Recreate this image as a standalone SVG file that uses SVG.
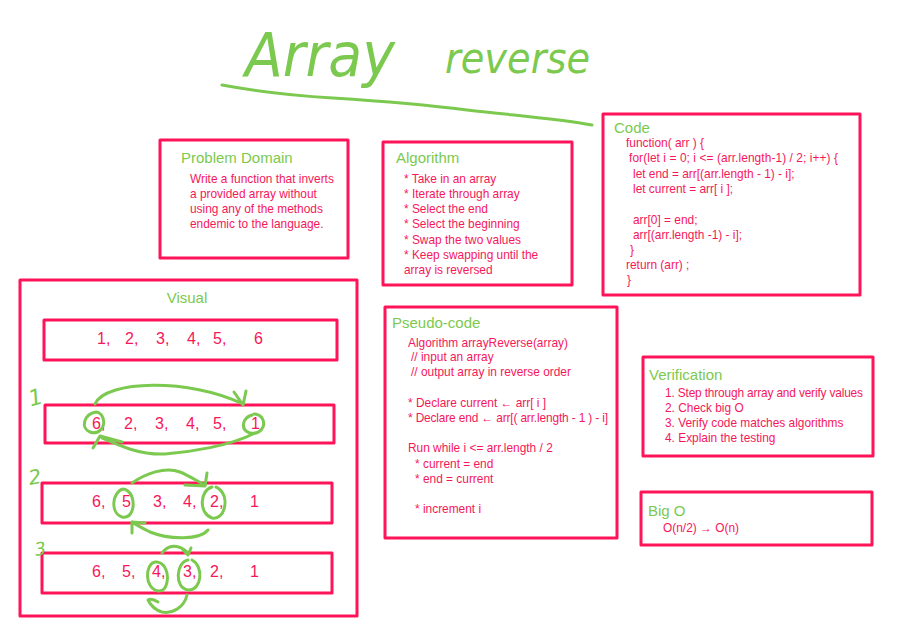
<svg xmlns="http://www.w3.org/2000/svg" width="902" height="634" viewBox="0 0 902 634">
<style>
.box{fill:none;stroke:#ff1459;stroke-width:3;stroke-linejoin:round}
.ttl{font-family:"Liberation Sans",Arial,sans-serif;font-size:15px;fill:#7cc94f}
.txt{font-family:"Liberation Sans",Arial,sans-serif;font-size:11.9px;fill:#f5175a}
.num{font-family:"Liberation Sans",Arial,sans-serif;font-size:16px;fill:#f5175a}
.g{fill:none;stroke:#7cc94f;stroke-width:3;stroke-linecap:round;stroke-linejoin:round}
.hand{font-family:"DejaVu Sans",sans-serif;fill:#7cc94f;font-style:italic}
</style>
<rect width="902" height="634" fill="#ffffff"/>
<g id="title">
<text class="hand" x="245" y="76" font-size="60" textLength="150" lengthAdjust="spacingAndGlyphs">Array</text>
<text class="hand" x="445" y="73" font-size="42" textLength="145" lengthAdjust="spacingAndGlyphs">reverse</text>
<path class="g" d="M222,85 C260,92 300,96 333,98 C380,101 420,104 467,110 C520,116 560,119 592,125"/>
</g>
<g id="problem-domain">
<rect class="box" x="160" y="140" width="188" height="118"/>
<text class="ttl" x="181" y="163">Problem Domain</text>
<text class="txt" x="190" y="183">Write a function that inverts</text>
<text class="txt" x="190" y="198">a provided array without</text>
<text class="txt" x="190" y="213">using any of the methods</text>
<text class="txt" x="190" y="228">endemic to the language.</text>
</g>
<g id="algorithm">
<rect class="box" x="383" y="142" width="189" height="143"/>
<text class="ttl" x="396" y="163">Algorithm</text>
<text class="txt" x="404" y="183">* Take in an array</text>
<text class="txt" x="404" y="198">* Iterate through array</text>
<text class="txt" x="404" y="213">* Select the end</text>
<text class="txt" x="404" y="228">* Select the beginning</text>
<text class="txt" x="404" y="244">* Swap the two values</text>
<text class="txt" x="404" y="259">* Keep swapping until the</text>
<text class="txt" x="404" y="274">array is reversed</text>
</g>
<g id="code">
<rect class="box" x="603" y="114" width="257" height="181"/>
<text class="ttl" x="614" y="133">Code</text>
<text class="txt" x="626" y="147">function( arr ) {</text>
<text class="txt" x="629" y="162" textLength="209">for(let i = 0; i &lt;= (arr.length-1) / 2; i++) {</text>
<text class="txt" x="633" y="178">let end = arr[(arr.length - 1) - i];</text>
<text class="txt" x="633" y="193">let current = arr[ i ];</text>
<text class="txt" x="633" y="224">arr[0] = end;</text>
<text class="txt" x="633" y="239">arr[(arr.length -1) - i];</text>
<text class="txt" x="630" y="254">}</text>
<text class="txt" x="626" y="269">return (arr) ;</text>
<text class="txt" x="627" y="284">}</text>
</g>
<g id="pseudo-code">
<rect class="box" x="385" y="307" width="232" height="231"/>
<text class="ttl" x="392" y="328">Pseudo-code</text>
<text class="txt" x="408" y="347">Algorithm arrayReverse(array)</text>
<text class="txt" x="411" y="361">// input an array</text>
<text class="txt" x="411" y="376">// output array in reverse order</text>
<text class="txt" x="408" y="407">* Declare current ← arr[ i ]</text>
<text class="txt" x="408" y="422" textLength="200">* Declare end ← arr[( arr.length - 1 ) - i]</text>
<text class="txt" x="408" y="452">Run while i &lt;= arr.length / 2</text>
<text class="txt" x="415" y="468">* current = end</text>
<text class="txt" x="415" y="483">* end = current</text>
<text class="txt" x="415" y="513">* increment i</text>
</g>
<g id="verification">
<rect class="box" x="643" y="357" width="230" height="99"/>
<text class="ttl" x="649" y="380">Verification</text>
<text class="txt" x="665" y="397" textLength="198">1. Step through array and verify values</text>
<text class="txt" x="665" y="412">2. Check big O</text>
<text class="txt" x="665" y="427">3. Verify code matches algorithms</text>
<text class="txt" x="665" y="442">4. Explain the testing</text>
</g>
<g id="big-o">
<rect class="box" x="641" y="492" width="231" height="53"/>
<text class="ttl" x="648" y="516">Big O</text>
<text class="txt" x="663" y="532">O(n/2) → O(n)</text>
</g>
<g id="visual">
<rect class="box" x="20" y="280" width="337" height="336"/>
<text class="ttl" x="187" y="303" text-anchor="middle" font-size="14">Visual</text>
<g id="row1">
<rect class="box" x="44" y="320" width="293" height="40"/>
<text class="num" x="97" y="344">1,</text><text class="num" x="125" y="344">2,</text><text class="num" x="156" y="344">3,</text><text class="num" x="187" y="344">4,</text><text class="num" x="213" y="344">5,</text><text class="num" x="254" y="344">6</text>
</g>
<g id="row2">
<rect class="box" x="45" y="405" width="289" height="38"/>
<text class="num" x="92" y="429">6,</text><text class="num" x="124" y="429">2,</text><text class="num" x="155" y="429">3,</text><text class="num" x="186" y="429">4,</text><text class="num" x="213" y="429">5,</text><text class="num" x="251" y="429">1</text>
</g>
<g id="row3">
<rect class="box" x="42" y="483" width="290" height="40"/>
<text class="num" x="92" y="507">6,</text><text class="num" x="122" y="507">5,</text><text class="num" x="153" y="507">3,</text><text class="num" x="183" y="507">4,</text><text class="num" x="210" y="507">2,</text><text class="num" x="250" y="507">1</text>
</g>
<g id="row4">
<rect class="box" x="42" y="553" width="290" height="40"/>
<text class="num" x="92" y="577">6,</text><text class="num" x="122" y="577">5,</text><text class="num" x="152" y="577">4,</text><text class="num" x="183" y="577">3,</text><text class="num" x="210" y="577">2,</text><text class="num" x="250" y="577">1</text>
</g>
</g>
<g id="connectors">
<text class="hand" x="28" y="405" font-size="22" transform="rotate(-15 35 395)">1</text>
<text class="hand" x="28" y="484" font-size="20" transform="rotate(-10 35 475)">2</text>
<text class="hand" x="34" y="555" font-size="18" transform="rotate(-10 40 546)">3</text>
<path class="g" d="M95,404 C105,380 190,378 243,404"/>
<path class="g" d="M234,392 L243,405 L246,391"/>
<path class="g" d="M96,412 C84,414 80,428 90,432 C98,435 106,428 103,418 C101,412 96,412 96,412"/>
<path class="g" d="M252,415 C242,418 240,430 250,433 C260,435 267,426 262,418 C259,414 254,414 254,414"/>
<path class="g" d="M255,433 C230,446 190,452 165,454 C140,455 120,446 102,438"/>
<path class="g" d="M93,448 L100,436 L122,442"/>
<path class="g" d="M132,483 C145,474 165,466 180,472 C190,476 198,482 205,485"/>
<path class="g" d="M185,485 L205,486 L207,473"/>
<path class="g" d="M123,489 C112,492 110,513 122,517 C132,519 135,506 132,497 C130,491 125,489 123,489"/>
<path class="g" d="M212,487 C200,490 198,513 212,518 C225,520 228,500 222,492 C219,488 216,487 216,487"/>
<path class="g" d="M208,530 C200,540 170,540 150,532 C142,528 136,525 132,522"/>
<path class="g" d="M132,533 L132,522 L145,523"/>
<path class="g" d="M162,553 C168,545 178,543 188,553"/>
<path class="g" d="M183,550 L188,555 L191,548"/>
<path class="g" d="M155,562 C145,564 144,588 158,591 C168,592 170,575 164,566 C160,561 155,562 155,562"/>
<path class="g" d="M188,560 C176,562 174,588 188,590 C202,591 204,566 192,560"/>
<path class="g" d="M187,595 C184,608 172,614 162,612 C155,610 150,604 148,600 C151,598 155,600 158,602"/>
</g>
</svg>
